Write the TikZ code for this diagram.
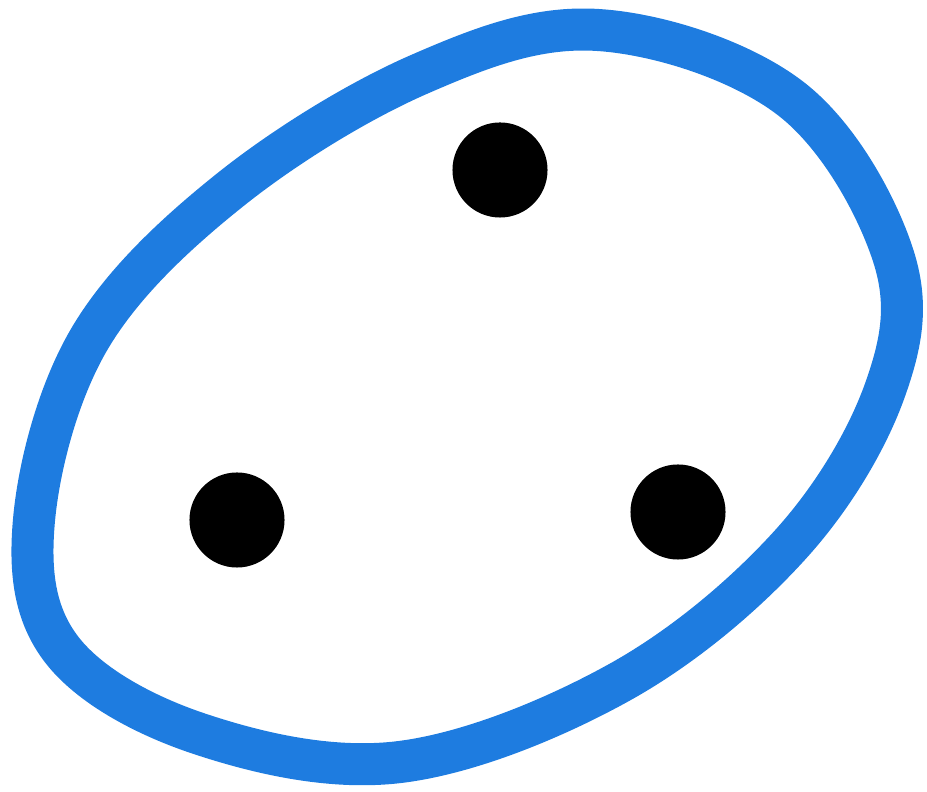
\documentclass[tikz,border=0pt]{standalone}
\usepackage{tikz}
\usetikzlibrary{positioning}
\definecolor{loopblue}{RGB}{30,124,224}

\begin{document}
\begin{tikzpicture}[x=.01cm,y=-.01cm,loop/.style={draw=loopblue,line width=.42cm,line join=round},dot/.style={circle,fill=black,inner sep=0pt,minimum size=.95cm}]
\useasboundingbox(0,0)rectangle(927,792);

% hand-drawn closed loop
\draw[loop]plot[smooth cycle,tension=.6]coordinates{(598,30)(790,98)(893,255)(885,390)(790,545)(620,682)(400,762)(200,734)(62,650)(34,520)(90,338)(230,190)(420,74)};

% three points inside
\node[dot](dotTop)at(500,170){};
\node[dot](dotLeft)at(237,520){};
\node[dot](dotRight)at(678,512){};
\end{tikzpicture}
\end{document}
